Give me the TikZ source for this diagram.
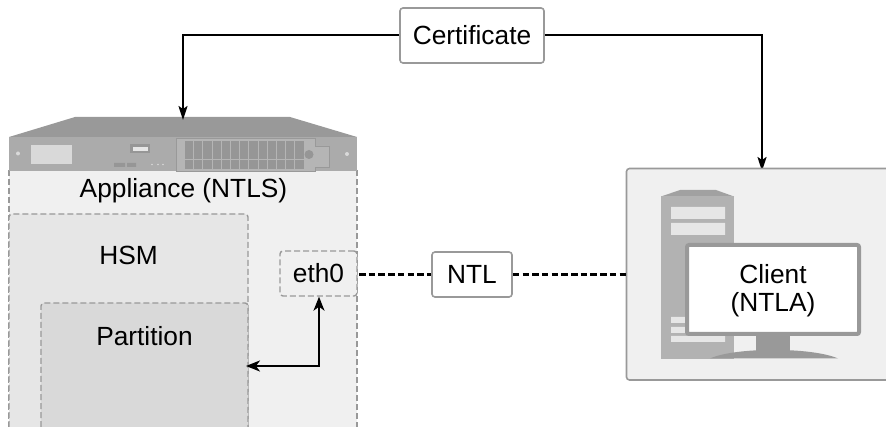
\documentclass[tikz,border=0pt]{standalone}
\usepackage{fontspec}
\setmainfont{Liberation Sans}
\usetikzlibrary{arrows.meta}
\definecolor{edgegray}{HTML}{999999}
\definecolor{panelA}{HTML}{F0F0F0}
\definecolor{panelB}{HTML}{E6E6E6}
\definecolor{panelC}{HTML}{D9D9D9}
\definecolor{hwtop}{HTML}{999999}
\definecolor{hwfront}{HTML}{ABABAB}
\definecolor{hwdark}{HTML}{969696}
\tikzset{
  lab/.style={font=\fontsize{26.3}{28}\selectfont, inner sep=0pt, text=black},
  solidbox/.style={draw=edgegray, line width=1.6pt, rounded corners=3pt, fill=white, inner sep=0pt},
  dashbox/.style={draw=edgegray, line width=1.4pt, dash pattern=on 6pt off 3pt, rounded corners=3pt},
  link/.style={draw=black, line width=2pt},
  tip/.style={-{Stealth[length=14pt,width=9pt,inset=3pt]}},
  tiptwo/.style={{Stealth[length=14pt,width=11pt,inset=4pt]}-{Stealth[length=14pt,width=11pt,inset=4pt]}},
  dashlink/.style={draw=black, line width=2.05pt, dash pattern=on 6.5pt off 3.2pt},
}
\begin{document}
\begin{tikzpicture}[x=1pt,y=-1pt]
\useasboundingbox (0,0) rectangle (886,427);
% appliance
\path[fill=panelA] (9,170) rectangle (357,427);
\draw[dashbox] (9,170) -- (9,427) (357,170) -- (357,427);
\draw[dashbox,fill=panelB] (9,427) -- (9,214) -- (248,214) -- (248,427);
\draw[dashbox,fill=panelC] (41,427) -- (41,303) -- (248,303) -- (248,427);
\node[lab] (appl) at (183.5,191) {Appliance (NTLS)};
\node[lab] (hsm) at (128.5,255) {HSM};
\node[lab] (part) at (144.5,336) {Partition};
\node[dashbox,fill=panelA,minimum width=77pt,minimum height=45pt,lab] (eth) at (318.5,273.5) {eth0};
\coordinate (partin) at (246,366);
% server
\fill[hwtop] (9,137) -- (75,117) -- (290,117) -- (357,137) -- cycle;
\fill[hwfront] (9,137) rectangle (357,171);
\fill[panelC] (31,145) rectangle (72,164);
\fill[panelC] (18,153.5) circle (2pt) (347,154) circle (2pt);
\fill[hwdark] (130,144) rectangle (150,153);
\fill[panelB] (133,147) rectangle (148,151);
\fill[hwdark] (114,163) rectangle (125,167) (127,163) rectangle (136,167);
\fill[panelC] (152,164.5) circle (.8pt) (158,164.5) circle (.8pt) (163,164.5) circle (.8pt);
\draw[hwtop,fill=black!29,line width=.8pt] (176,138.5) -- (315,138.5) -- (315,146) -- (329,146) -- (329,167) -- (315,167) -- (315,171.5) -- (176,171.5) -- cycle;
\foreach \cx in {0,...,12} {
  \fill[hwdark] (185+\cx*9.2,141) rectangle +(8.2,18);
  \fill[hwdark] (185+\cx*9.2,160) rectangle +(8.2,9);
}
\fill[hwdark] (309,154.5) circle (4.5pt);
% top connectors
\node[solidbox,lab,minimum width=144pt,minimum height=55pt] (cert) at (472,35.5) {Certificate};
\coordinate (srvtop) at (183,120);
\coordinate (clitop) at (762,171);
\draw[link,tip] (cert.west) -| (srvtop);
\draw[link,tip] (cert.east) -| (clitop);
% client
\draw[draw=edgegray,line width=1.6pt,fill=panelA,rounded corners=3pt] (895,168.5) -- (626.5,168.5) -- (626.5,380) -- (895,380);
\fill[black!37] (661,196.5) -- (680,190) -- (716,190) -- (734,196.5) -- cycle;
\fill[black!30] (661,196) rectangle (734,359);
\fill[panelB] (671,207) rectangle (725,219) (671,223) rectangle (725,235) (671,317) rectangle (690,323) (671,327) rectangle (690,333) (671,336) rectangle (725,342);
\fill[edgegray] (756,334) rectangle (790,351);
\fill[edgegray] (710,358.5) .. controls (735,347) and (812,347) .. (838,358.5) -- cycle;
\node[draw=edgegray,line width=4pt,rounded corners=2pt,fill=white,minimum width=172pt,minimum height=89pt,inner sep=0pt] (mon) at (773,289.5) {};
\node[lab,align=center,font=\fontsize{26.3}{28}\selectfont] (cli) at (773,290.5) {Client\\(NTLA)};
% NTL
\node[solidbox,lab,minimum width=80pt,minimum height=45pt] (ntl) at (472,274.5) {NTL};
\coordinate (cliw) at (626,274.5);
\coordinate (ethe) at (359,274.5);
\draw[dashlink] (ethe) -- (ntl.west);
\draw[dashlink] (ntl.east) -- (cliw);
\draw[link,tiptwo] (eth.south) ++(0.5,0) |- (partin);
\end{tikzpicture}
\end{document}
